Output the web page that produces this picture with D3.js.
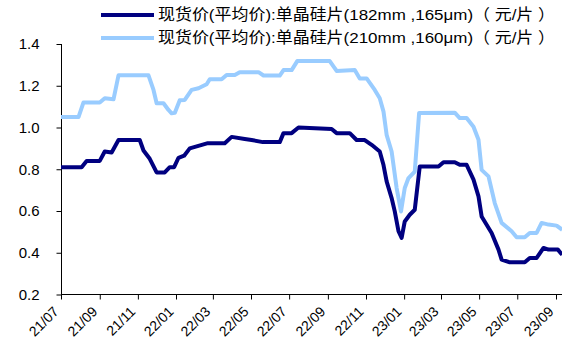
<!DOCTYPE html>
<html>
<head>
    <script src="https://cdn.jsdelivr.net/npm/d3@7"></script>
</head>

<style>
    body { margin: 0; background: #fff; }
    svg { font-family: "Liberation Sans", Arial, "Noto Sans CJK SC", sans-serif; }
    .line { fill: none; stroke-width: 4px; stroke-linejoin: round; }
    .axis path, .axis line { stroke: #000; }
    .axis text { fill: #000; }
</style>

<body>
<div id="chart"></div>

<script>

    // 单晶硅片 182mm 165μm
    var dates182 = ['2021-07-01', '2021-08-03', '2021-08-11', '2021-09-01', '2021-09-09', '2021-09-20', '2021-10-01',
        '2021-11-04', '2021-11-10', '2021-11-20', '2021-12-01', '2021-12-14', '2021-12-22', '2021-12-29',
        '2022-01-05', '2022-01-14', '2022-01-23', '2022-02-21', '2022-03-20', '2022-03-31', '2022-04-21',
        '2022-05-02', '2022-05-20', '2022-06-16', '2022-06-22', '2022-07-05', '2022-07-16', '2022-09-07',
        '2022-09-15', '2022-10-06', '2022-10-17', '2022-10-30', '2022-11-10', '2022-11-23', '2022-11-29',
        '2022-12-04', '2022-12-12', '2022-12-17', '2022-12-23', '2022-12-28', '2023-01-02', '2023-01-10',
        '2023-01-18', '2023-01-26', '2023-02-25', '2023-03-05', '2023-03-23', '2023-03-31', '2023-04-11',
        '2023-04-22', '2023-04-30', '2023-05-05', '2023-05-21', '2023-06-01', '2023-06-06', '2023-06-19',
        '2023-07-13', '2023-07-21', '2023-08-01', '2023-08-12', '2023-08-20', '2023-09-04', '2023-09-11'];
    var price182 = [0.81, 0.81, 0.84, 0.84, 0.885, 0.88, 0.94,
        0.94, 0.89, 0.85, 0.785, 0.785, 0.81, 0.81,
        0.855, 0.865, 0.90, 0.925, 0.925, 0.955, 0.945,
        0.94, 0.93, 0.93, 0.973, 0.973, 1.0, 0.993,
        0.973, 0.973, 0.94, 0.94, 0.917, 0.885, 0.82,
        0.742, 0.662, 0.598, 0.503, 0.471, 0.55, 0.582,
        0.606, 0.813, 0.813, 0.834, 0.834, 0.821, 0.821,
        0.75, 0.67, 0.574, 0.495, 0.415, 0.367, 0.354,
        0.354, 0.375, 0.375, 0.423, 0.415, 0.415, 0.39];

    // 单晶硅片 210mm 160μm
    var dates210 = ['2021-07-01', '2021-07-29', '2021-08-06', '2021-09-01', '2021-09-09', '2021-09-23', '2021-10-01',
        '2021-11-18', '2021-11-26', '2021-12-01', '2021-12-12', '2021-12-20', '2021-12-25', '2021-12-30',
        '2022-01-07', '2022-01-15', '2022-01-26', '2022-02-06', '2022-02-19', '2022-02-24', '2022-03-15',
        '2022-03-23', '2022-04-05', '2022-04-13', '2022-05-13', '2022-05-21', '2022-06-16', '2022-06-22',
        '2022-07-05', '2022-07-14', '2022-09-04', '2022-09-15', '2022-10-14', '2022-10-22', '2022-11-02',
        '2022-11-15', '2022-11-23', '2022-11-29', '2022-12-04', '2022-12-12', '2022-12-20', '2022-12-27',
        '2023-01-02', '2023-01-08', '2023-01-18', '2023-01-25', '2023-03-23', '2023-03-31', '2023-04-11',
        '2023-04-22', '2023-04-30', '2023-05-05', '2023-05-16', '2023-05-26', '2023-06-06', '2023-06-22',
        '2023-06-30', '2023-07-13', '2023-07-21', '2023-08-01', '2023-08-09', '2023-08-20', '2023-09-02',
        '2023-09-11'];
    var price210 = [1.05, 1.05, 1.12, 1.12, 1.14, 1.135, 1.25,
        1.25, 1.18, 1.116, 1.116, 1.084, 1.068, 1.07,
        1.13, 1.132, 1.18, 1.188, 1.207, 1.231, 1.231,
        1.252, 1.252, 1.265, 1.265, 1.249, 1.249, 1.275,
        1.275, 1.318, 1.318, 1.271, 1.275, 1.235, 1.235,
        1.18, 1.14, 1.076, 0.965, 0.885, 0.71, 0.598,
        0.71, 0.758, 0.789, 1.07, 1.071, 1.045, 1.045,
        1.004, 0.941, 0.797, 0.766, 0.638, 0.543, 0.503,
        0.474, 0.474, 0.495, 0.495, 0.543, 0.535, 0.53,
        0.51];

    var names = ['现货价(平均价):单晶硅片(182mm ,165μm)（ 元/片 ）',
                 '现货价(平均价):单晶硅片(210mm ,160μm)（ 元/片 ）'];
    var colors = ['#000080', '#99ccff'];

    var yTicks = [0.2, 0.4, 0.6, 0.8, 1.0, 1.2, 1.4];
    var xTicks = ['2021-07', '2021-09', '2021-11', '2022-01', '2022-03', '2022-05', '2022-07',
                  '2022-09', '2022-11', '2023-01', '2023-03', '2023-05', '2023-07', '2023-09', '2023-11'];

    var width = 562, height = 349;
    var padding = { left: 61, top: 44, bottom: 54 };

    var parse = d3.timeParse('%Y-%m-%d');
    var parseMonth = d3.timeParse('%Y-%m');

    var xScale = d3.scaleTime()
        .domain([parse('2021-07-01'), parse('2023-09-01')])
        .range([padding.left, 556]);

    var yScale = d3.scaleLinear()
        .domain([0.2, 1.4])
        .range([height - padding.bottom - 0.5, padding.top]);

    var svg = d3.select('#chart').append('svg')
        .attr('width', width)
        .attr('height', height);

    // y axis
    var yAxis = d3.axisLeft(yScale)
        .tickValues(yTicks)
        .tickFormat(d3.format('.1f'))
        .tickSize(5)
        .tickPadding(17);

    svg.append('g')
        .attr('class', 'axis')
        .attr('transform', 'translate(' + (padding.left + 0.5) + ',0)')
        .call(yAxis)
        .call(function(g) { g.select('.domain').attr('d', 'M0,' + yScale(1.4) + 'V' + yScale(0.2)); })
        .selectAll('text')
        .style('font-size', '15px');

    // x axis
    var xAxis = d3.axisBottom(xScale)
        .tickValues(xTicks.map(parseMonth))
        .tickFormat(d3.timeFormat('%y/%m'))
        .tickSize(5)
        .tickSizeOuter(0);

    var gx = svg.append('g')
        .attr('class', 'axis')
        .attr('transform', 'translate(0,' + yScale(0.2) + ')')
        .call(xAxis);

    gx.select('.domain').attr('d', 'M' + padding.left + ',0H' + width);

    gx.selectAll('text')
        .style('font-size', '14px')
        .attr('text-anchor', 'end')
        .attr('dy', 0)
        .attr('x', 0)
        .attr('y', 0)
        .attr('transform', 'translate(-2,18) rotate(-45)');

    // lines
    var pen = d3.line()
        .x(function(d) { return xScale(d[0]); })
        .y(function(d) { return yScale(d[1]); });

    var series = [
        d3.zip(dates182.map(parse), price182),
        d3.zip(dates210.map(parse), price210)
    ];

    // light line first, dark one on top
    [1, 0].forEach(function(i) {
        svg.append('path')
            .datum(series[i])
            .attr('class', 'line')
            .attr('stroke', colors[i])
            .attr('d', pen);
    });

    // legend
    var legend = svg.append('g');
    names.forEach(function(name, i) {
        var y = 15 + i * 23;
        legend.append('line')
            .attr('x1', 101).attr('x2', 154)
            .attr('y1', y).attr('y2', y)
            .attr('stroke', colors[i])
            .attr('stroke-width', 4);
        legend.append('text')
            .attr('x', 158)
            .attr('y', y)
            .attr('dy', '0.35em')
            .attr('textLength', 397)
            .attr('lengthAdjust', 'spacingAndGlyphs')
            .style('font-size', '15.5px')
            .text(name);
    });

</script>
</body>
</html>
